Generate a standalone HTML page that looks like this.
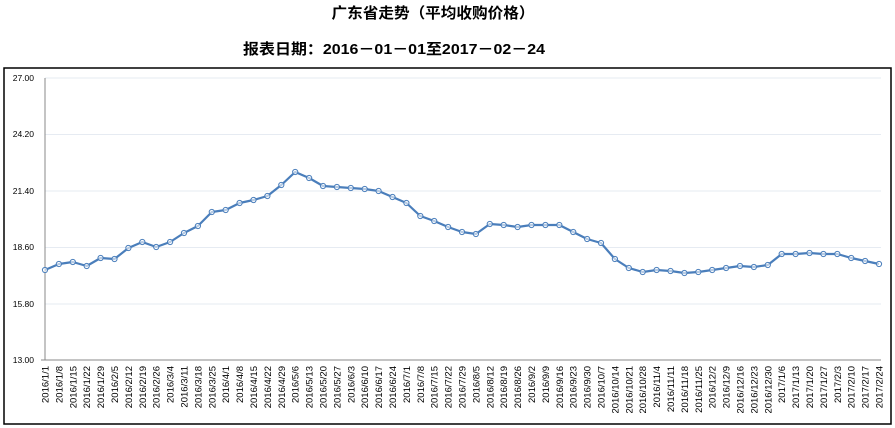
<!DOCTYPE html>
<html><head><meta charset="utf-8"><style>
html,body{margin:0;padding:0;background:#fff;}
svg{display:block;}
</style></head><body>
<svg width="895" height="428" xmlns="http://www.w3.org/2000/svg" font-family="Liberation Sans, sans-serif">
<rect x="0" y="0" width="895" height="428" fill="#fff"/>
<text x="433" y="18" text-anchor="middle" font-family="Liberation Sans, Noto Sans CJK SC, sans-serif" font-weight="bold" font-size="15" textLength="203" lengthAdjust="spacingAndGlyphs">广东省走势（平均收购价格）</text>
<text x="243" y="54" font-family="Liberation Sans, Noto Sans CJK SC, sans-serif" font-weight="bold" font-size="15" textLength="302" lengthAdjust="spacingAndGlyphs">报表日期：2016－01－01至2017－02－24</text>
<rect x="4" y="68" width="887" height="356" fill="none" stroke="#000" stroke-width="1.5"/>
<g stroke="#e6ebf2" stroke-width="1">
<line x1="45" y1="78" x2="881" y2="78"/><line x1="45" y1="134.5" x2="881" y2="134.5"/><line x1="45" y1="191" x2="881" y2="191"/><line x1="45" y1="247.5" x2="881" y2="247.5"/><line x1="45" y1="304" x2="881" y2="304"/>
</g>
<line x1="45" y1="78" x2="45" y2="360" stroke="#888" stroke-width="1"/>
<line x1="41" y1="360" x2="881" y2="360" stroke="#888" stroke-width="1"/>
<g font-size="8.5" text-anchor="end" fill="#000">
<text x="34" y="81">27.00</text><text x="34" y="137">24.20</text><text x="34" y="194">21.40</text><text x="34" y="250">18.60</text><text x="34" y="307">15.80</text><text x="34" y="363">13.00</text>
</g>
<g font-size="9.5" text-anchor="end" fill="#000">
<text transform="translate(48.5,366) rotate(-90)">2016/1/1</text>
<text transform="translate(62.4,366) rotate(-90)">2016/1/8</text>
<text transform="translate(76.3,366) rotate(-90)">2016/1/15</text>
<text transform="translate(90.2,366) rotate(-90)">2016/1/22</text>
<text transform="translate(104.1,366) rotate(-90)">2016/1/29</text>
<text transform="translate(118,366) rotate(-90)">2016/2/5</text>
<text transform="translate(131.9,366) rotate(-90)">2016/2/12</text>
<text transform="translate(145.8,366) rotate(-90)">2016/2/19</text>
<text transform="translate(159.7,366) rotate(-90)">2016/2/26</text>
<text transform="translate(173.6,366) rotate(-90)">2016/3/4</text>
<text transform="translate(187.5,366) rotate(-90)">2016/3/11</text>
<text transform="translate(201.4,366) rotate(-90)">2016/3/18</text>
<text transform="translate(215.3,366) rotate(-90)">2016/3/25</text>
<text transform="translate(229.2,366) rotate(-90)">2016/4/1</text>
<text transform="translate(243.1,366) rotate(-90)">2016/4/8</text>
<text transform="translate(257,366) rotate(-90)">2016/4/15</text>
<text transform="translate(270.9,366) rotate(-90)">2016/4/22</text>
<text transform="translate(284.8,366) rotate(-90)">2016/4/29</text>
<text transform="translate(298.7,366) rotate(-90)">2016/5/6</text>
<text transform="translate(312.6,366) rotate(-90)">2016/5/13</text>
<text transform="translate(326.5,366) rotate(-90)">2016/5/20</text>
<text transform="translate(340.4,366) rotate(-90)">2016/5/27</text>
<text transform="translate(354.3,366) rotate(-90)">2016/6/3</text>
<text transform="translate(368.2,366) rotate(-90)">2016/6/10</text>
<text transform="translate(382.1,366) rotate(-90)">2016/6/17</text>
<text transform="translate(396,366) rotate(-90)">2016/6/24</text>
<text transform="translate(409.9,366) rotate(-90)">2016/7/1</text>
<text transform="translate(423.8,366) rotate(-90)">2016/7/8</text>
<text transform="translate(437.7,366) rotate(-90)">2016/7/15</text>
<text transform="translate(451.6,366) rotate(-90)">2016/7/22</text>
<text transform="translate(465.5,366) rotate(-90)">2016/7/29</text>
<text transform="translate(479.4,366) rotate(-90)">2016/8/5</text>
<text transform="translate(493.3,366) rotate(-90)">2016/8/12</text>
<text transform="translate(507.2,366) rotate(-90)">2016/8/19</text>
<text transform="translate(521.1,366) rotate(-90)">2016/8/26</text>
<text transform="translate(535,366) rotate(-90)">2016/9/2</text>
<text transform="translate(548.9,366) rotate(-90)">2016/9/9</text>
<text transform="translate(562.8,366) rotate(-90)">2016/9/16</text>
<text transform="translate(576.7,366) rotate(-90)">2016/9/23</text>
<text transform="translate(590.6,366) rotate(-90)">2016/9/30</text>
<text transform="translate(604.5,366) rotate(-90)">2016/10/7</text>
<text transform="translate(618.4,366) rotate(-90)">2016/10/14</text>
<text transform="translate(632.3,366) rotate(-90)">2016/10/21</text>
<text transform="translate(646.2,366) rotate(-90)">2016/10/28</text>
<text transform="translate(660.1,366) rotate(-90)">2016/11/4</text>
<text transform="translate(674,366) rotate(-90)">2016/11/11</text>
<text transform="translate(687.9,366) rotate(-90)">2016/11/18</text>
<text transform="translate(701.8,366) rotate(-90)">2016/11/25</text>
<text transform="translate(715.7,366) rotate(-90)">2016/12/2</text>
<text transform="translate(729.6,366) rotate(-90)">2016/12/9</text>
<text transform="translate(743.5,366) rotate(-90)">2016/12/16</text>
<text transform="translate(757.4,366) rotate(-90)">2016/12/23</text>
<text transform="translate(771.3,366) rotate(-90)">2016/12/30</text>
<text transform="translate(785.2,366) rotate(-90)">2017/1/6</text>
<text transform="translate(799.1,366) rotate(-90)">2017/1/13</text>
<text transform="translate(813,366) rotate(-90)">2017/1/20</text>
<text transform="translate(826.9,366) rotate(-90)">2017/1/27</text>
<text transform="translate(840.8,366) rotate(-90)">2017/2/3</text>
<text transform="translate(854.7,366) rotate(-90)">2017/2/10</text>
<text transform="translate(868.6,366) rotate(-90)">2017/2/17</text>
<text transform="translate(882.5,366) rotate(-90)">2017/2/24</text>
</g>
<polyline fill="none" stroke="#4a7ebb" stroke-width="2.2" stroke-linejoin="round" points="45,270 58.9,264 72.8,262 86.7,266 100.6,258 114.5,259 128.4,248 142.3,242 156.2,247 170.1,242 184,233 197.9,226 211.8,212 225.7,210 239.6,203 253.5,200 267.4,196 281.3,185 295.2,172 309.1,178 323,186 336.9,187 350.8,188 364.7,189 378.6,191 392.5,197 406.4,203 420.3,216 434.2,221 448.1,227 462,232 475.9,234 489.8,224 503.7,225 517.6,227 531.5,225 545.4,225 559.3,225 573.2,232 587.1,239 601,243 614.9,259 628.8,268 642.7,272 656.6,270 670.5,271 684.4,273 698.3,272 712.2,270 726.1,268 740,266 753.9,267 767.8,265 781.7,254 795.6,254 809.5,253 823.4,254 837.3,254 851.2,258 865.1,261 879,264"/>
<g fill="#fff" fill-opacity="0.6" stroke="#4a7ebb" stroke-width="1">
<circle cx="45" cy="270" r="2.6"/><circle cx="58.9" cy="264" r="2.6"/><circle cx="72.8" cy="262" r="2.6"/><circle cx="86.7" cy="266" r="2.6"/><circle cx="100.6" cy="258" r="2.6"/><circle cx="114.5" cy="259" r="2.6"/><circle cx="128.4" cy="248" r="2.6"/><circle cx="142.3" cy="242" r="2.6"/><circle cx="156.2" cy="247" r="2.6"/><circle cx="170.1" cy="242" r="2.6"/><circle cx="184" cy="233" r="2.6"/><circle cx="197.9" cy="226" r="2.6"/><circle cx="211.8" cy="212" r="2.6"/><circle cx="225.7" cy="210" r="2.6"/><circle cx="239.6" cy="203" r="2.6"/><circle cx="253.5" cy="200" r="2.6"/><circle cx="267.4" cy="196" r="2.6"/><circle cx="281.3" cy="185" r="2.6"/><circle cx="295.2" cy="172" r="2.6"/><circle cx="309.1" cy="178" r="2.6"/><circle cx="323" cy="186" r="2.6"/><circle cx="336.9" cy="187" r="2.6"/><circle cx="350.8" cy="188" r="2.6"/><circle cx="364.7" cy="189" r="2.6"/><circle cx="378.6" cy="191" r="2.6"/><circle cx="392.5" cy="197" r="2.6"/><circle cx="406.4" cy="203" r="2.6"/><circle cx="420.3" cy="216" r="2.6"/><circle cx="434.2" cy="221" r="2.6"/><circle cx="448.1" cy="227" r="2.6"/><circle cx="462" cy="232" r="2.6"/><circle cx="475.9" cy="234" r="2.6"/><circle cx="489.8" cy="224" r="2.6"/><circle cx="503.7" cy="225" r="2.6"/><circle cx="517.6" cy="227" r="2.6"/><circle cx="531.5" cy="225" r="2.6"/><circle cx="545.4" cy="225" r="2.6"/><circle cx="559.3" cy="225" r="2.6"/><circle cx="573.2" cy="232" r="2.6"/><circle cx="587.1" cy="239" r="2.6"/><circle cx="601" cy="243" r="2.6"/><circle cx="614.9" cy="259" r="2.6"/><circle cx="628.8" cy="268" r="2.6"/><circle cx="642.7" cy="272" r="2.6"/><circle cx="656.6" cy="270" r="2.6"/><circle cx="670.5" cy="271" r="2.6"/><circle cx="684.4" cy="273" r="2.6"/><circle cx="698.3" cy="272" r="2.6"/><circle cx="712.2" cy="270" r="2.6"/><circle cx="726.1" cy="268" r="2.6"/><circle cx="740" cy="266" r="2.6"/><circle cx="753.9" cy="267" r="2.6"/><circle cx="767.8" cy="265" r="2.6"/><circle cx="781.7" cy="254" r="2.6"/><circle cx="795.6" cy="254" r="2.6"/><circle cx="809.5" cy="253" r="2.6"/><circle cx="823.4" cy="254" r="2.6"/><circle cx="837.3" cy="254" r="2.6"/><circle cx="851.2" cy="258" r="2.6"/><circle cx="865.1" cy="261" r="2.6"/><circle cx="879" cy="264" r="2.6"/>
</g>
</svg>
</body></html>
